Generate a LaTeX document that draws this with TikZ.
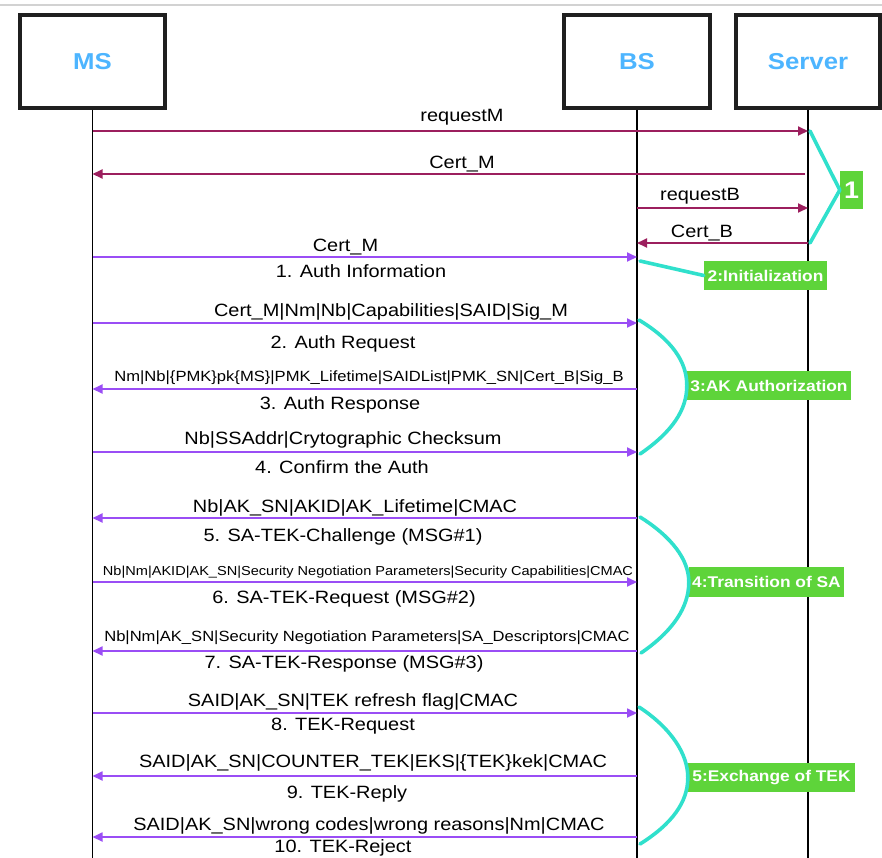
\documentclass[tikz,border=0pt]{standalone}
\usepackage{fontspec}
\setmainfont{Liberation Sans}[FakeStretch=1.12]
\usetikzlibrary{arrows.meta}
\definecolor{maroon}{HTML}{9C1F5E}
\definecolor{violet}{HTML}{9A4DF5}
\definecolor{bracecol}{HTML}{30E0CC}
\definecolor{phgreen}{HTML}{5ED43A}
\definecolor{headblue}{HTML}{4DB5FF}
\tikzset{
  actor/.style={draw=black!88, line width=3.2pt, minimum height=93pt, inner sep=0pt,
    font=\fontsize{23}{26}\selectfont\bfseries, text=headblue},
  life/.style={draw=black, line width=1.5pt},
  msgA/.style={draw=maroon, line width=1.8pt, -{Triangle[length=10pt,width=9pt]}},
  msgB/.style={draw=violet, line width=1.8pt, -{Triangle[length=10pt,width=9pt]}},
  lbl/.style={anchor=base, inner sep=0pt, font=\fontsize{17.8}{20}\selectfont},
  lblsmall/.style={anchor=base, inner sep=0pt, font=\fontsize{14.8}{17}\selectfont},
  lbltiny/.style={anchor=base, inner sep=0pt, font=\fontsize{13}{15}\selectfont},
  phase/.style={fill=phgreen, text=white, inner sep=0pt,
    font=\fontsize{15.5}{18}\selectfont\bfseries},
  bracket/.style={draw=bracecol, line width=3.6pt, line cap=round, line join=round},
}
\begin{document}
\begin{tikzpicture}[x=1pt, y=-1pt]
\useasboundingbox (0,0) rectangle (882,857);
\fill[white] (0,0) rectangle (882,857);
% top rule
\coordinate (ruleL) at (0,5);
\coordinate (ruleR) at (882,5);
\draw[gray!35, line width=1.2pt] (ruleL) -- (ruleR);

% actors
\node[actor, minimum width=145pt] (MS) at (92.5,61.5) {MS};
\node[actor, minimum width=146pt] (BS) at (637,61.5) {BS};
\node[actor, minimum width=144pt] (Server) at (808,61.5) {Server};

% lifelines
\coordinate (bottom) at (0,860);
\draw[life] (MS.south) -- (MS.south |- bottom);
\draw[life] (BS.south) -- (BS.south |- bottom);
\draw[life] (Server.south) -- (Server.south |- bottom);

% phase 1: initialization messages
\draw[msgA] (MS |- 0,131) -- (Server |- 0,131);
\node[lbl] (l1) at (462,121) {requestM};
\draw[msgA] ([xshift=-3pt]Server |- 0,174) -- (MS |- 0,174);
\node[lbl] (l2) at (462,168) {Cert\_M};
\draw[msgA] (BS |- 0,208) -- (Server |- 0,208);
\node[lbl] (l3) at (700,200) {requestB};
\draw[msgA] (Server |- 0,243) -- (BS |- 0,243);
\node[lbl] (l4) at (702,237) {Cert\_B};

\draw[msgB] (MS |- 0,257) -- (BS |- 0,257);
\node[lbl] (l5) at (345.5,251) {Cert\_M};
\node[lbl] (l6) at (361,277) {1. Auth Information};

% AK authorization
\draw[msgB] (MS |- 0,323) -- (BS |- 0,323);
\node[lbl] (l7) at (391,316) {Cert\_M|Nm|Nb|Capabilities|SAID|Sig\_M};
\node[lbl] (l8) at (343,348) {2. Auth Request};
\draw[msgB] (BS |- 0,389) -- (MS |- 0,389);
\node[lblsmall] (l9) at (369,381) {Nm|Nb|\{PMK\}pk\{MS\}|PMK\_Lifetime|SAIDList|PMK\_SN|Cert\_B|Sig\_B};
\node[lbl] (l10) at (340,409) {3. Auth Response};
\draw[msgB] (MS |- 0,452) -- (BS |- 0,452);
\node[lbl] (l11) at (343,444) {Nb|SSAddr|Crytographic Checksum};
\node[lbl] (l12) at (342,473) {4. Confirm the Auth};

% transition of SA
\draw[msgB] (BS |- 0,518) -- (MS |- 0,518);
\node[lbl] (l13) at (355,512) {Nb|AK\_SN|AKID|AK\_Lifetime|CMAC};
\node[lbl] (l14) at (343,541) {5. SA-TEK-Challenge (MSG\#1)};
\draw[msgB] (MS |- 0,582) -- (BS |- 0,582);
\node[lbltiny] (l15) at (368,575) {Nb|Nm|AKID|AK\_SN|Security Negotiation Parameters|Security Capabilities|CMAC};
\node[lbl] (l16) at (344,603) {6. SA-TEK-Request (MSG\#2)};
\draw[msgB] (BS |- 0,651) -- (MS |- 0,651);
\node[lblsmall] (l17) at (367,641) {Nb|Nm|AK\_SN|Security Negotiation Parameters|SA\_Descriptors|CMAC};
\node[lbl] (l18) at (344,668) {7. SA-TEK-Response (MSG\#3)};

% exchange of TEK
\draw[msgB] (MS |- 0,713) -- (BS |- 0,713);
\node[lbl] (l19) at (353,706) {SAID|AK\_SN|TEK refresh flag|CMAC};
\node[lbl] (l20) at (343,730) {8. TEK-Request};
\draw[msgB] (BS |- 0,776) -- (MS |- 0,776);
\node[lbl] (l21) at (373,767) {SAID|AK\_SN|COUNTER\_TEK|EKS|\{TEK\}kek|CMAC};
\node[lbl] (l22) at (347,798) {9. TEK-Reply};
\draw[msgB] (BS |- 0,837) -- (MS |- 0,837);
\node[lbl] (l23) at (369,830) {SAID|AK\_SN|wrong codes|wrong reasons|Nm|CMAC};
\node[lbl] (l24) at (343,852.5) {10. TEK-Reject};

% phase labels
\node[phase, minimum width=23pt, minimum height=38pt, font=\fontsize{24}{26}\selectfont\bfseries] (g1) at (851.5,190) {1};
\node[phase, minimum width=123pt, minimum height=29pt] (g2) at (765.5,275.5) {2:Initialization};
\node[phase, minimum width=164pt, minimum height=29pt] (g3) at (769,385.5) {3:AK Authorization};
\node[phase, minimum width=155pt, minimum height=30pt] (g4) at (766.5,582) {4:Transition of SA};
\node[phase, minimum width=167pt, minimum height=29pt] (g5) at (771.5,777.5) {5:Exchange of TEK};

% brackets
\coordinate (b1a) at (810,131);
\coordinate (b1b) at (810,243);
\draw[bracket] (b1a) -- (g1.west) -- (b1b);
\coordinate (b2a) at (640,261);
\draw[bracket] (b2a) -- (g2.west);
\coordinate (b3a) at (639,320);
\coordinate (b3b) at (640,454);
\draw[bracket] (b3a) .. controls (672,340) and (687,362) .. (g3.west) .. controls (687,410) and (672,432) .. (b3b);
\coordinate (b4a) at (640,517);
\coordinate (b4b) at (641,653);
\draw[bracket] (b4a) .. controls (672,537) and (689,560) .. (g4.west) .. controls (689,607) and (673,631) .. (b4b);
\coordinate (b5a) at (639,707);
\coordinate (b5b) at (640,844);
\draw[bracket] (b5a) .. controls (671,728) and (688,754) .. (g5.west) .. controls (688,802) and (672,824) .. (b5b);
\end{tikzpicture}
\end{document}
